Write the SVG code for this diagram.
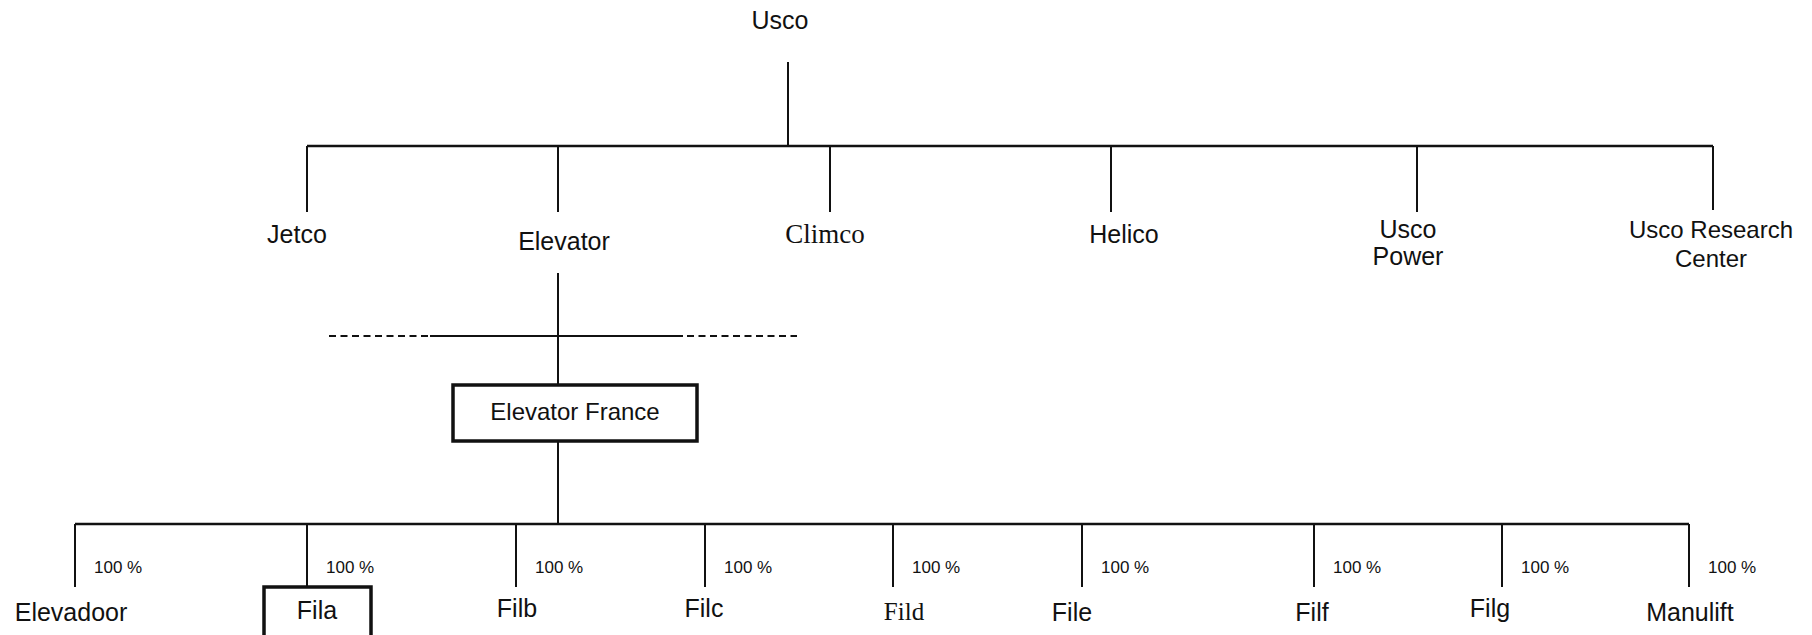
<svg xmlns="http://www.w3.org/2000/svg" width="1812" height="635" viewBox="0 0 1812 635">
<style>
.s{font-family:"Liberation Sans",Arial,sans-serif;font-size:25px;fill:#111;text-anchor:middle}
.t{font-family:"Liberation Serif","Times New Roman",serif;font-size:25px;fill:#111;text-anchor:middle}
.p{font-family:"Liberation Sans",Arial,sans-serif;font-size:17px;fill:#111}
.ln{stroke:#111;stroke-width:2;fill:none}
.hl{stroke:#111;stroke-width:2.6;fill:none}
.dash{stroke:#111;stroke-width:2;stroke-dasharray:7 4.5;fill:none}
.box{fill:#fff;stroke:#111;stroke-width:3.5}
</style>
<rect width="1812" height="635" fill="#fff"/>
<g id="connectors">
<line class="ln" x1="788" y1="62" x2="788" y2="146"/>
<line class="hl" x1="307" y1="146" x2="1713" y2="146"/>
<line class="ln" x1="307" y1="146" x2="307" y2="212"/>
<line class="ln" x1="558" y1="146" x2="558" y2="212"/>
<line class="ln" x1="830" y1="146" x2="830" y2="212"/>
<line class="ln" x1="1111" y1="146" x2="1111" y2="212"/>
<line class="ln" x1="1417" y1="146" x2="1417" y2="212"/>
<line class="ln" x1="1713" y1="146" x2="1713" y2="210"/>
<line class="ln" x1="558" y1="273" x2="558" y2="385"/>
<line class="dash" x1="329" y1="336" x2="430" y2="336"/>
<line class="ln" x1="430" y1="336" x2="683" y2="336"/>
<line class="dash" x1="687" y1="336" x2="797" y2="336"/>
<line class="ln" x1="558" y1="441" x2="558" y2="524"/>
<line class="hl" x1="75" y1="524" x2="1689" y2="524"/>
<line class="ln" x1="75" y1="524" x2="75" y2="587"/>
<line class="ln" x1="307" y1="524" x2="307" y2="587"/>
<line class="ln" x1="516" y1="524" x2="516" y2="587"/>
<line class="ln" x1="705" y1="524" x2="705" y2="587"/>
<line class="ln" x1="893" y1="524" x2="893" y2="587"/>
<line class="ln" x1="1082" y1="524" x2="1082" y2="587"/>
<line class="ln" x1="1314" y1="524" x2="1314" y2="587"/>
<line class="ln" x1="1502" y1="524" x2="1502" y2="587"/>
<line class="ln" x1="1689" y1="524" x2="1689" y2="587"/>
<g id="percentages">
<text class="p" x="94" y="573">100 %</text>
<text class="p" x="326" y="573">100 %</text>
<text class="p" x="535" y="573">100 %</text>
<text class="p" x="724" y="573">100 %</text>
<text class="p" x="912" y="573">100 %</text>
<text class="p" x="1101" y="573">100 %</text>
<text class="p" x="1333" y="573">100 %</text>
<text class="p" x="1521" y="573">100 %</text>
<text class="p" x="1708" y="573">100 %</text>
</g>
</g>
<g id="usco"><text class="s" x="780" y="29">Usco</text></g>
<g id="jetco"><text class="s" x="297" y="243">Jetco</text></g>
<g id="elevator"><text class="s" x="564" y="250">Elevator</text></g>
<g id="climco"><text class="t" x="825" y="243" style="font-size:27px">Climco</text></g>
<g id="helico"><text class="s" x="1124" y="243">Helico</text></g>
<g id="usco-power"><text class="s" x="1408" y="238">Usco</text><text class="s" x="1408" y="265">Power</text></g>
<g id="usco-research"><text class="s" x="1711" y="238" style="font-size:24px">Usco Research</text><text class="s" x="1711" y="267" style="font-size:24px">Center</text></g>
<g id="elevator-france"><rect class="box" x="453" y="385" width="244" height="56"/><text class="s" x="575" y="420" style="font-size:24px">Elevator France</text></g>
<g id="elevadoor"><text class="s" x="71" y="621">Elevadoor</text></g>
<g id="fila"><rect class="box" x="264" y="587" width="107" height="60"/><text class="s" x="317" y="619">Fila</text></g>
<g id="filb"><text class="s" x="517" y="617">Filb</text></g>
<g id="filc"><text class="s" x="704" y="617">Filc</text></g>
<g id="fild"><text class="t" x="904" y="620">Fild</text></g>
<g id="file"><text class="s" x="1072" y="621">File</text></g>
<g id="filf"><text class="s" x="1312" y="621">Filf</text></g>
<g id="filg"><text class="s" x="1490" y="617">Filg</text></g>
<g id="manulift"><text class="s" x="1690" y="621">Manulift</text></g>
</svg>
